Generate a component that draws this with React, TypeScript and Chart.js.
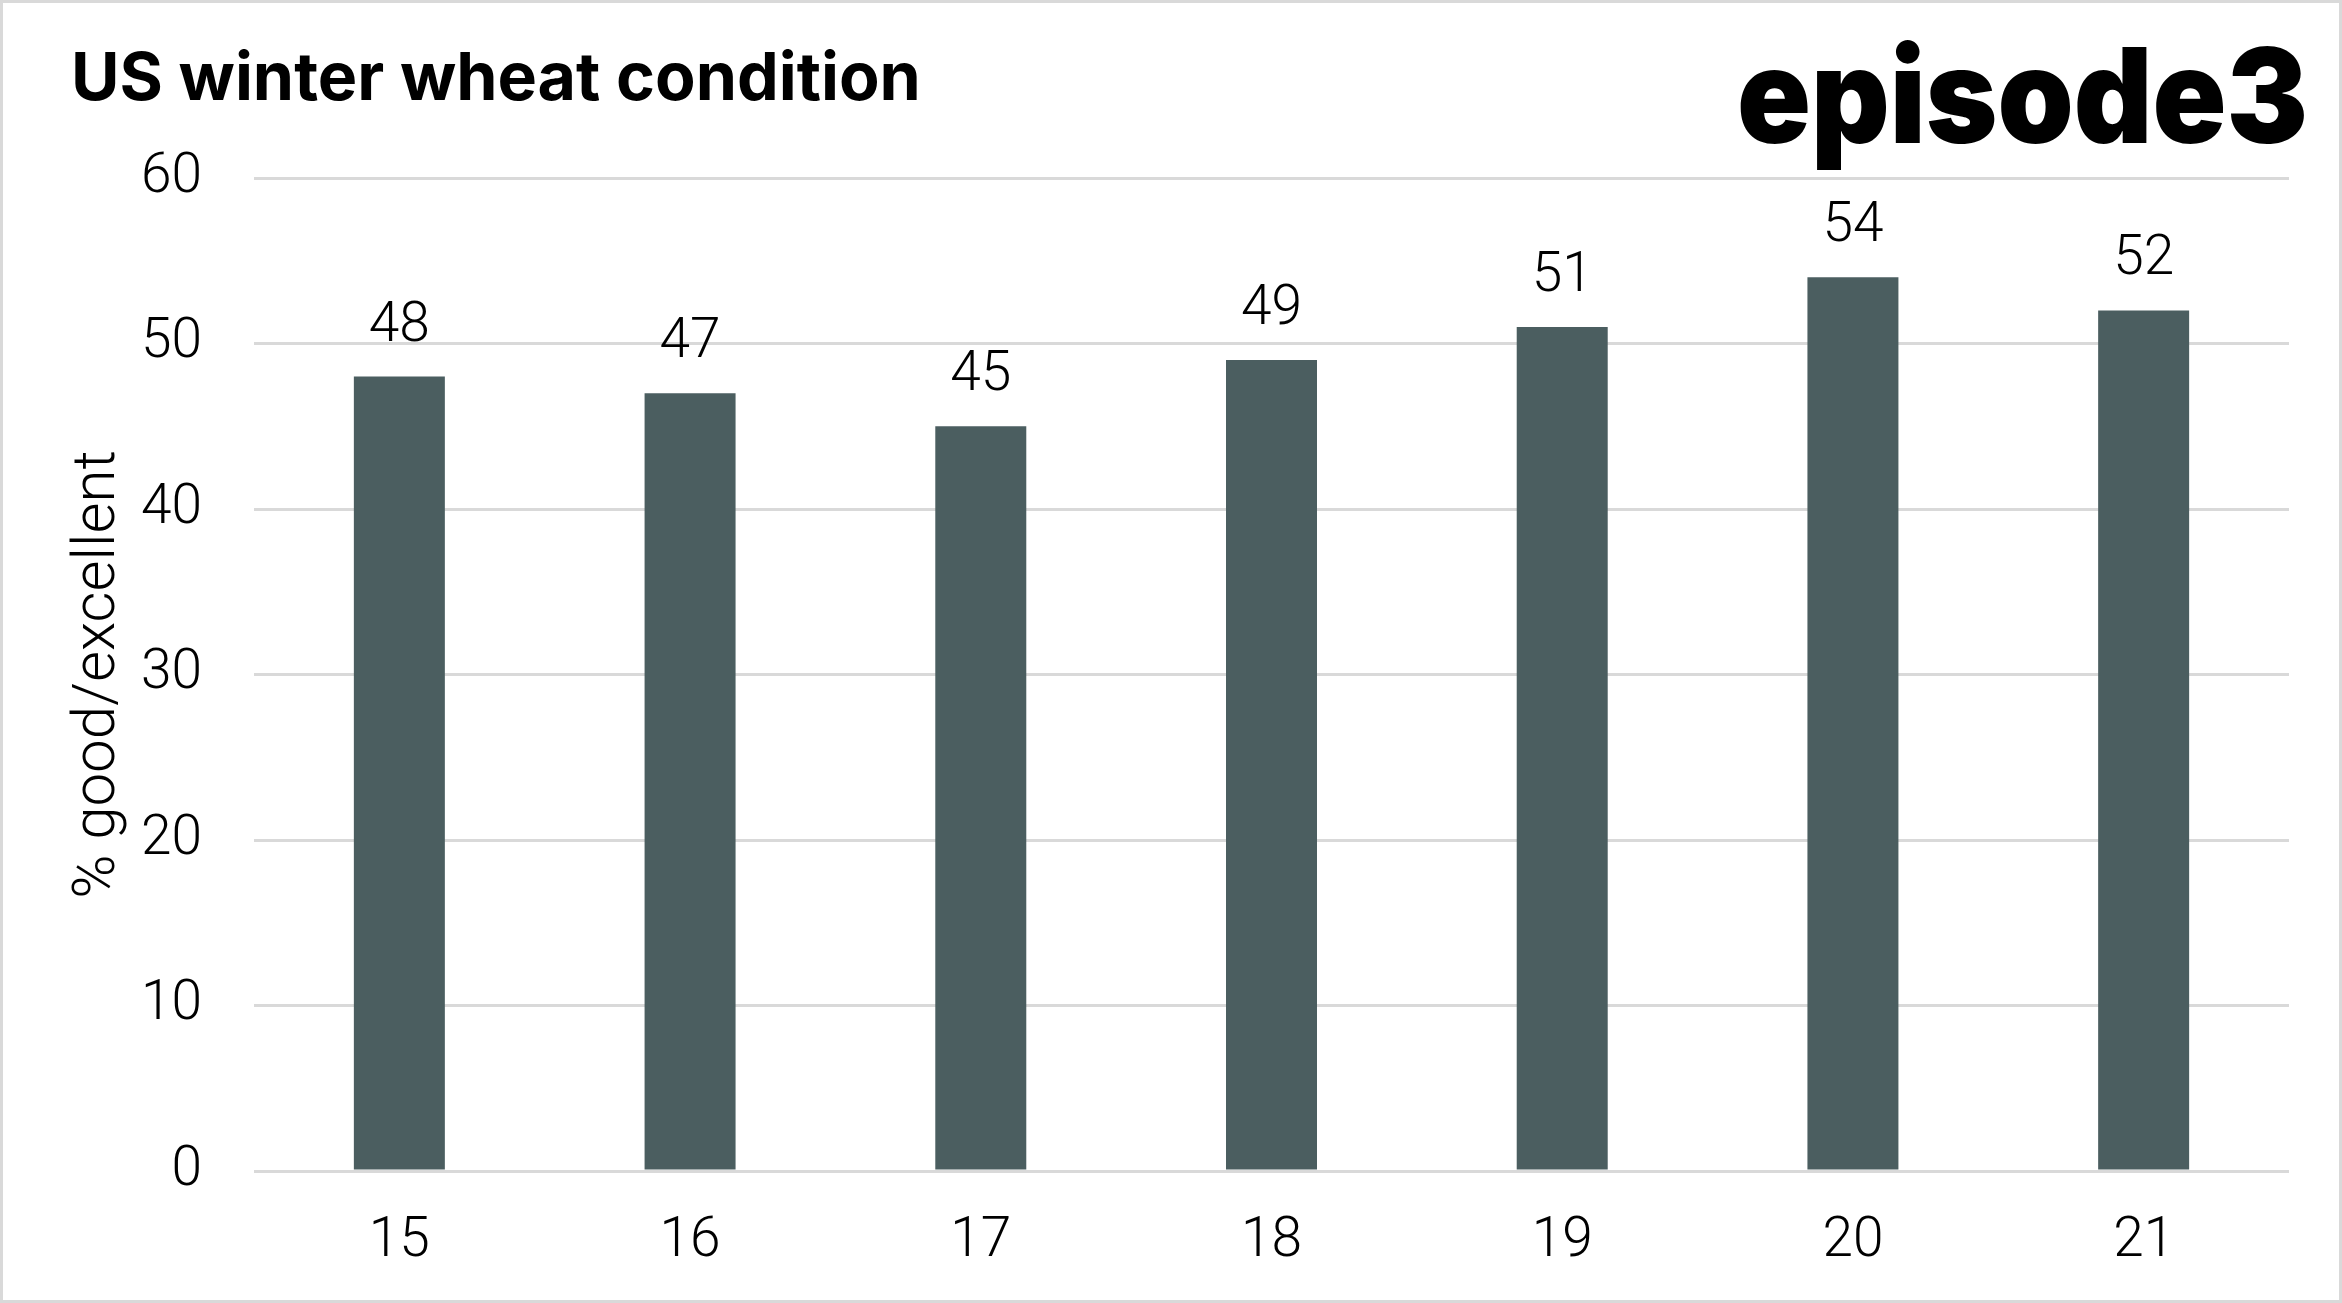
import React, { useEffect, useRef } from "react";
import { Chart, registerables } from "chart.js";

Chart.register(...registerables);

const categories = ["15", "16", "17", "18", "19", "20", "21"];
const goodExcellent = [48, 47, 45, 49, 51, 54, 52];
const yTicks = [0, 10, 20, 30, 40, 50, 60];
const titleText = "US winter wheat condition";
const logoText = "episode3";
const yAxisTitle = "% good/excellent";

const W = 2342;
const H = 1303;
const TICK_FONT = "Roboto, 'Noto Sans', sans-serif";

function fitFont(ctx: CanvasRenderingContext2D, text: string, weight: string, family: string, base: number, targetWidth: number) {
  ctx.font = `${weight} ${base}px ${family}`;
  const w = ctx.measureText(text).width;
  const size = base * (targetWidth / w);
  return `${weight} ${size}px ${family}`;
}

const decorPlugin = {
  id: "decor",
  beforeDraw(chart: any) {
    const ctx = chart.ctx as CanvasRenderingContext2D;
    ctx.save();
    ctx.fillStyle = "#ffffff";
    ctx.fillRect(0, 0, chart.width, chart.height);
    ctx.restore();
  },
  afterDraw(chart: any) {
    const ctx = chart.ctx as CanvasRenderingContext2D;
    ctx.save();
    // title
    ctx.fillStyle = "#000000";
    ctx.textBaseline = "alphabetic";
    ctx.textAlign = "left";
    ctx.font = fitFont(ctx, titleText, "700", "Inter, 'Noto Sans', sans-serif", 64, 850);
    ctx.fillText(titleText, 71, 100);
    // logo (slightly stretched vertically to match the taller x-height)
    ctx.save();
    ctx.textAlign = "right";
    ctx.font = fitFont(ctx, logoText, "900", "Inter, 'Noto Sans', sans-serif", 140, 571);
    ctx.translate(2308, 143);
    ctx.scale(1, 1.08);
    ctx.fillText(logoText, 0, 0);
    ctx.restore();
    // value labels
    const meta = chart.getDatasetMeta(0);
    ctx.textAlign = "center";
    ctx.textBaseline = "alphabetic";
    ctx.font = `300 55px ${TICK_FONT}`;
    meta.data.forEach((bar: any, i: number) => {
      ctx.fillText(String(goodExcellent[i]), bar.x, bar.y - 36);
    });
    // frame
    ctx.strokeStyle = "#d9d9d9";
    ctx.lineWidth = 3;
    ctx.strokeRect(1.5, 1.5, W - 3, H - 3);
    ctx.restore();
  },
};

export default function App() {
  const ref = useRef<HTMLCanvasElement | null>(null);
  useEffect(() => {
    if (!ref.current) return;
    const chart = new Chart(ref.current, {
      type: "bar",
      data: {
        labels: categories,
        datasets: [
          {
            data: goodExcellent,
            backgroundColor: "#4b5e60",
            borderWidth: 0,
            categoryPercentage: 1,
            barPercentage: 0.313,
          },
        ],
      },
      options: {
        animation: false,
        responsive: true,
        maintainAspectRatio: false,
        devicePixelRatio: 1,
        layout: { padding: { top: 178, right: 53, bottom: 0, left: 0 } },
        plugins: {
          legend: { display: false },
          tooltip: { enabled: false },
          title: { display: false },
        },
        scales: {
          x: {
            grid: { display: false, drawTicks: false },
            border: { display: false },
            ticks: {
              color: "#000000",
              padding: 38,
              font: { family: TICK_FONT, size: 55, weight: "300" as any },
            },
            afterFit: (scale: any) => {
              scale.height = 132;
            },
          },
          y: {
            min: 0,
            max: 60,
            afterBuildTicks: (scale: any) => {
              scale.ticks = yTicks.map((v) => ({ value: v }));
            },
            grid: { color: "#d9d9d9", lineWidth: 3, drawTicks: false },
            border: { display: false },
            ticks: {
              color: "#000000",
              padding: 52,
              font: { family: TICK_FONT, size: 55, weight: "300" as any },
            },
            title: {
              display: true,
              text: yAxisTitle,
              color: "#000000",
              padding: { top: 63, bottom: 0 },
              font: { family: "Roboto, 'Liberation Sans', sans-serif", size: 60, weight: "300" as any },
            },
            afterFit: (scale: any) => {
              scale.width = 254;
            },
          },
        },
      },
      plugins: [decorPlugin],
    });
    return () => chart.destroy();
  }, []);
  return (
    <div style={{ position: "absolute", left: 0, top: 0, width: W, height: H, background: "#fff" }}>
      <canvas ref={ref} />
    </div>
  );
}
